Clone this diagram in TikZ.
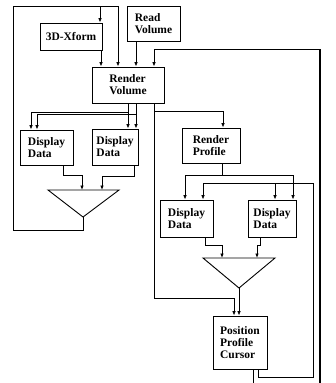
\documentclass[tikz,border=0pt]{standalone}
\usepackage{fontspec}
\setmainfont{Liberation Serif}
\usetikzlibrary{arrows.meta}

\begin{document}
\begin{tikzpicture}[x=1pt,y=-1pt,font=\fontsize{11.5}{12}\selectfont\bfseries,
box/.style={draw,line width=0.9pt,align=left,inner sep=0pt},
arr/.style={-{Latex[length=4.5pt,width=3.6pt]},line width=0.8pt},
wire/.style={line width=0.8pt},
tri/.style={draw,line width=0.9pt,line join=miter}]
\useasboundingbox (0,0) rectangle (335,383);
% upper half
\node[box,minimum width=62pt,minimum height=27pt] (xform) at (71,36.5) {3D-Xform};
\node[box,minimum width=53pt,minimum height=35pt] (readvol) at (153.5,23.5) {Read\\Volume};
\node[box,minimum width=72pt,minimum height=36pt] (rendvol) at (128,85) {Render\\Volume};
\node[box,minimum width=53pt,minimum height=35pt] (dispA) at (46.5,147.5) {Display\\Data};
\node[box,minimum width=46pt,minimum height=36pt] (dispB) at (115,147) {Display\\Data};
\coordinate (triAl) at (48,190);
\coordinate (triAr) at (119,190);
\coordinate (triAa) at (83,217);
\draw[tri] (triAl) -- (triAr) -- (triAa) -- cycle;
% lower half
\node[box,minimum width=58pt,minimum height=35pt] (rendprof) at (211,145.5) {Render\\Profile};
\node[box,minimum width=53pt,minimum height=37pt] (dispC) at (186.5,218.5) {Display\\Data};
\node[box,minimum width=48pt,minimum height=37pt] (dispD) at (272,218.5) {Display\\Data};
\coordinate (triBl) at (203,258);
\coordinate (triBr) at (275,258);
\coordinate (triBa) at (239,288);
\draw[tri] (triBl) -- (triBr) -- (triBa) -- cycle;
\node[box,minimum width=54pt,minimum height=53pt] (cursor) at (240,342.5) {Position\\Profile\\Cursor};
\coordinate (looptop) at (13,6);
\coordinate (bottomA) at (253,383);
\coordinate (bottomB) at (320,383);
% connectors
\draw[arr] (triAa) -- ++(0,13) -| (looptop) -| (rendvol.north -| 118,0);
\draw[arr] (looptop -| 100,0) -- (xform.north -| 100,0);
\draw[arr] (xform.south -| 101,0) -- (rendvol.north -| 101,0);
\draw[arr] (readvol.south -| 136,0) -- (rendvol.north -| 136,0);
\draw[line width=1.5pt] (bottomB) -- (bottomB |- 0,49);
\draw[arr] (bottomB |- 0,49) -- (154,49) -- (rendvol.north -| 154,0);
\draw[arr] (rendvol.south -| 128,0) -- (dispB.north -| 128,0);
\draw[arr] (rendvol.south -| 128,0) |- (31,112) -- (dispA.north -| 31,0);
\draw[arr] (rendvol.south -| 136,0) -- (dispB.north -| 136,0);
\draw[arr] (rendvol.south -| 136,0) |- (37,114) -- (dispA.north -| 37,0);
\draw[arr] (dispA.south -| 63,0) |- (82,175) -- (triAl -| 82,0);
\draw[arr] (dispB.south -| 134,0) |- (102,176) -- (triAl -| 102,0);
\draw[arr] (rendvol.south -| 154,0) |- (223,111) -- (rendprof.north -| 223,0);
\draw[arr] (rendvol.south -| 154,0) |- (234,298) -- (cursor.north -| 234,0);
\draw[arr] (rendprof.south -| 222,0) |- (185,175) -- (dispC.north -| 185,0);
\draw[arr] (rendprof.south -| 222,0) |- (293,175) -- (dispD.north -| 293,0);
\draw[arr] (cursor.south -| 258,0) |- (313,377) |- (203,183) -- (dispC.north -| 203,0);
\draw[arr] (275,183) -- (dispD.north -| 275,0);
\draw[arr] (dispC.south -| 205,0) |- (222,245) -- (triBl -| 222,0);
\draw[arr] (dispD.south -| 260,0) |- (257,245) -- (triBl -| 257,0);
\draw[arr] (triBa) -- (cursor.north -| 239,0);
\draw[wire] (cursor.south -| bottomA) -- (bottomA);
\end{tikzpicture}
\end{document}
